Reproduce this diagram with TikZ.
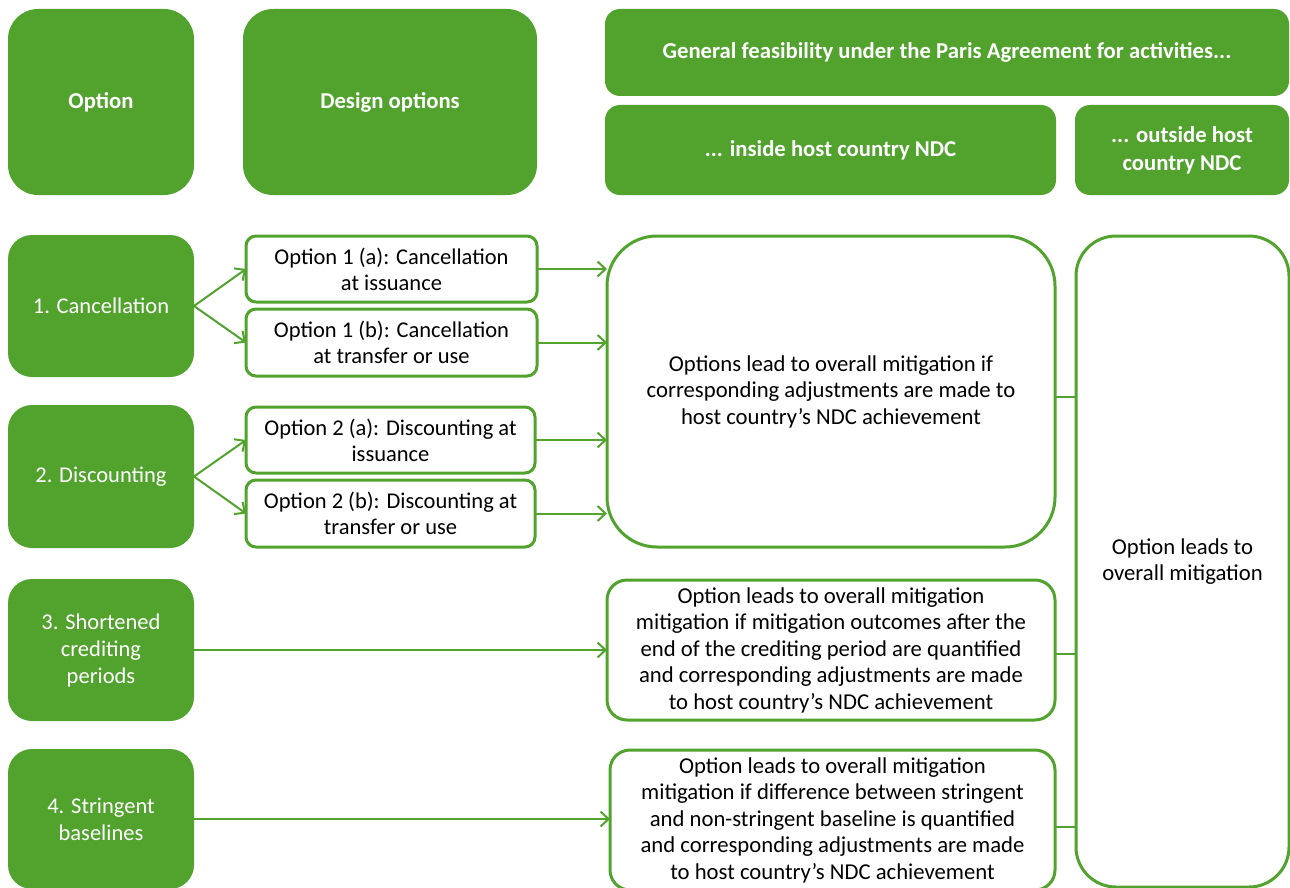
\documentclass[tikz,border=0pt]{standalone}
\usepackage{fontspec}
\setmainfont{Carlito}
\usetikzlibrary{arrows.meta}
\definecolor{grn}{RGB}{82,162,46}
\tikzset{
  hdr/.style={fill=grn, text=white, font=\fontsize{22.7}{28}\selectfont\bfseries, align=center, inner sep=0pt, outer sep=0pt},
  opt/.style={fill=grn, text=white, font=\fontsize{22.5}{27}\selectfont, align=center, inner sep=0pt, outer sep=0pt, rounded corners=24pt},
  des/.style={draw=grn, line width=3pt, fill=white, font=\fontsize{22.5}{26}\selectfont, align=center, inner sep=0pt, outer sep=0pt, rounded corners=10pt},
  res/.style={draw=grn, line width=3pt, fill=white, font=\fontsize{22.7}{26.5}\selectfont, align=center, inner sep=0pt, outer sep=0pt},
  arr/.style={draw=grn, line width=2pt, -{Straight Barb[length=8pt,width=15pt,line width=2pt]}},
  lnk/.style={draw=grn, line width=2pt}
}
\begin{document}
\begin{tikzpicture}[x=1pt,y=-1pt]
\useasboundingbox (0,0) rectangle (1290,888);
% headers
\node[hdr, rounded corners=30pt, minimum width=186pt, minimum height=186pt] (hOpt) at (101,102) {Option};
\node[hdr, rounded corners=30pt, minimum width=294pt, minimum height=186pt] (hDes) at (390,102) {Design options};
\node[hdr, rounded corners=15pt, minimum width=684pt, minimum height=87pt] (hGen) at (947,52.5) {General feasibility under the Paris Agreement for activities...};
\node[hdr, rounded corners=15pt, minimum width=451pt, minimum height=90pt] (hIn) at (830.5,150) {... inside host country NDC};
\node[hdr, rounded corners=15pt, minimum width=214pt, minimum height=90pt] (hOut) at (1182,150) {... outside host\\country NDC};
% options
\node[opt, minimum width=186pt, minimum height=142pt] (o1) at (101,306) {1. Cancellation};
\node[opt, minimum width=186pt, minimum height=143pt] (o2) at (101,476.5) {2. Discounting};
\node[opt, minimum width=186pt, minimum height=142pt] (o3) at (101,650) {3. Shortened\\crediting\\periods};
\node[opt, minimum width=186pt, minimum height=140pt] (o4) at (101,819) {4. Stringent\\baselines};
% design options
\node[des, minimum width=291pt, minimum height=66pt] (d1a) at (391.5,269) {Option 1 (a): Cancellation\\at issuance};
\node[des, minimum width=291pt, minimum height=67pt] (d1b) at (391.5,342.5) {Option 1 (b): Cancellation\\at transfer or use};
\node[des, minimum width=289pt, minimum height=66pt] (d2a) at (390.5,440) {Option 2 (a): Discounting at\\issuance};
\node[des, minimum width=289pt, minimum height=67pt] (d2b) at (390.5,513.5) {Option 2 (b): Discounting at\\transfer or use};
% results
\node[res, rounded corners=50pt, minimum width=448pt, minimum height=311pt] (rIn) at (831,391.5) {Options lead to overall mitigation if\\corresponding adjustments are made to\\host country’s NDC achievement};
\node[res, rounded corners=20pt, minimum width=448pt, minimum height=140pt] (r3) at (831,650) {Option leads to overall mitigation\\mitigation if mitigation outcomes after the\\end of the crediting period are quantified\\and corresponding adjustments are made\\to host country’s NDC achievement};
\node[res, rounded corners=20pt, minimum width=445pt, minimum height=140pt] (r4) at (832.5,820) {Option leads to overall mitigation\\mitigation if difference between stringent\\and non-stringent baseline is quantified\\and corresponding adjustments are made\\to host country’s NDC achievement};
\node[res, rounded corners=40pt, minimum width=213pt, minimum height=651pt] (rOut) at (1182.5,561.5) {Option leads to\\overall mitigation};
% connectors
\draw[arr] (o1.east) -- (d1a.west);
\draw[arr] (o1.east) -- (d1b.west);
\draw[arr] (o2.east) -- (d2a.west);
\draw[arr] (o2.east) -- (d2b.west);
\draw[arr] (d1a.east) -- (d1a.east -| rIn.west);
\draw[arr] (d1b.east) -- (d1b.east -| rIn.west);
\draw[arr] (d2a.east) -- (d2a.east -| rIn.west);
\draw[arr] (d2b.east) -- (d2b.east -| rIn.west);
\draw[arr] (o3.east) -- (o3.east -| r3.west);
\draw[arr] (o4.east) -- (o4.east -| r4.west);
\draw[lnk] ([yshift=-5pt]rIn.east) -- ([yshift=-5pt]rIn.east -| rOut.west);
\draw[lnk] ([yshift=-4pt]r3.east) -- ([yshift=-4pt]r3.east -| rOut.west);
\draw[lnk] ([yshift=-7pt]r4.east) -- ([yshift=-7pt]r4.east -| rOut.west);
\end{tikzpicture}
\end{document}
